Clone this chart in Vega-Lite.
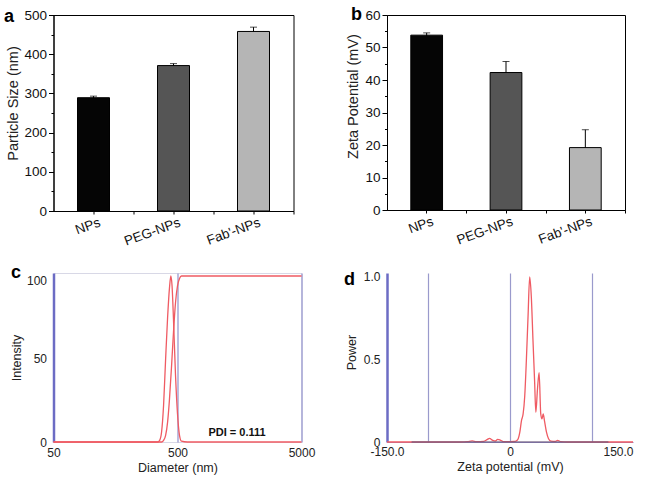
{
  "$schema": "https://vega.github.io/schema/vega-lite/v6.json",
  "background": "white",
  "padding": {"left": 3.5, "top": 5, "right": 5, "bottom": 5},
  "config": {
    "font": "Liberation Sans",
    "view": {"stroke": null},
    "axis": {"labelFont": "Liberation Sans", "titleFont": "Liberation Sans", "titleFontWeight": "normal", "labelOverlap": false},
    "title": {"font": "Liberation Sans"}
  },
  "columns": 2,
  "spacing": {"row": 62, "column": 85.5},
  "bounds": "flush",
  "concat": [
    {
      "width": 240,
      "height": 196,
      "title": {"text": "a", "anchor": "start", "frame": "group", "fontSize": 18, "fontWeight": "bold", "color": "black", "offset": -32, "baseline": "alphabetic", "dx": -49.5},
      "view": {"stroke": "black", "strokeWidth": 1},
      "data": {"values": [
        {"sample": "NPs", "size": 289, "sd": 4},
        {"sample": "PEG-NPs", "size": 371, "sd": 5},
        {"sample": "Fab'-NPs", "size": 458, "sd": 11}
      ]},
      "layer": [
        {
          "mark": {"type": "errorbar", "ticks": true, "size": 7, "thickness": 1, "color": "black"},
          "encoding": {
            "x": {"field": "sample", "type": "nominal", "sort": null, "scale": {"paddingInner": 0.6, "paddingOuter": 0.3},
              "axis": {"orient": "bottom", "title": null, "labels": false, "domain": false, "bandPosition": 1, "tickOffset": 24, "tickSize": 3, "tickColor": "black"}},
            "y": {"field": "size", "type": "quantitative", "scale": {"domain": [0, 500], "nice": false}, "title": "Particle Size (nm)"},
            "yError": {"field": "sd"}
          }
        },
        {
          "mark": {"type": "bar", "stroke": "black", "strokeWidth": 1},
          "encoding": {
            "x": {"field": "sample", "type": "nominal", "sort": null, "scale": {"paddingInner": 0.6, "paddingOuter": 0.3},
              "axis": {"orient": "bottom", "title": null, "labelAngle": -20, "labelFontSize": 13.5, "labelColor": "#111", "tickSize": 3, "tickColor": "black", "domainColor": "black", "labelPadding": 1, "labelOffset": 4}},
            "y": {"field": "size", "type": "quantitative", "scale": {"domain": [0, 500], "nice": false}, "title": "Particle Size (nm)",
              "axis": {"values": [0, 50, 100, 150, 200, 250, 300, 350, 400, 450, 500], "tickCount": 40, "labelExpr": "datum.value % 100 === 0 ? datum.label : ''",
                "labelOverlap": false,
                "tickSize": {"condition": {"test": "datum.value % 100 === 0", "value": 5}, "value": 2.5},
                "tickColor": "black", "domainColor": "black", "grid": false, "labelFontSize": 13.5, "labelColor": "#111", "labelPadding": 2,
                "titleFontSize": 14.5, "titleColor": "#222", "titlePadding": 3, "titleY": 88}},
            "color": {"field": "sample", "type": "nominal", "sort": null, "scale": {"domain": ["NPs", "PEG-NPs", "Fab'-NPs"], "range": ["#050505", "#555555", "#b5b5b5"]}, "legend": null}
          }
        }
      ],
      "resolve": {"axis": {"x": "independent"}}
    },
    {
      "width": 238,
      "height": 195,
      "title": {"text": "b", "anchor": "start", "frame": "group", "fontSize": 18, "fontWeight": "bold", "color": "black", "offset": -30, "baseline": "alphabetic", "dx": -36},
      "view": {"stroke": "black", "strokeWidth": 1},
      "data": {"values": [
        {"sample": "NPs", "zeta": 53.8, "sd": 0.7},
        {"sample": "PEG-NPs", "zeta": 42.3, "sd": 3.4},
        {"sample": "Fab'-NPs", "zeta": 19.2, "sd": 5.5}
      ]},
      "layer": [
        {
          "mark": {"type": "errorbar", "ticks": true, "size": 7, "thickness": 1, "color": "black"},
          "encoding": {
            "x": {"field": "sample", "type": "nominal", "sort": null, "scale": {"paddingInner": 0.6, "paddingOuter": 0.3},
              "axis": {"orient": "bottom", "title": null, "labels": false, "domain": false, "bandPosition": 1, "tickOffset": 23.8, "tickSize": 3, "tickColor": "black"}},
            "y": {"field": "zeta", "type": "quantitative", "scale": {"domain": [0, 60], "nice": false}, "title": "Zeta Potential (mV)"},
            "yError": {"field": "sd"}
          }
        },
        {
          "mark": {"type": "bar", "stroke": "black", "strokeWidth": 1},
          "encoding": {
            "x": {"field": "sample", "type": "nominal", "sort": null, "scale": {"paddingInner": 0.6, "paddingOuter": 0.3},
              "axis": {"orient": "bottom", "title": null, "labelAngle": -20, "labelFontSize": 13.5, "labelColor": "#111", "tickSize": 3, "tickColor": "black", "domainColor": "black", "labelPadding": 1, "labelOffset": 4}},
            "y": {"field": "zeta", "type": "quantitative", "scale": {"domain": [0, 60], "nice": false}, "title": "Zeta Potential (mV)",
              "axis": {"values": [0, 5, 10, 15, 20, 25, 30, 35, 40, 45, 50, 55, 60], "tickCount": 40, "labelExpr": "datum.value % 10 === 0 ? datum.label : ''",
                "labelOverlap": false,
                "tickSize": {"condition": {"test": "datum.value % 10 === 0", "value": 5}, "value": 2.5},
                "tickColor": "black", "domainColor": "black", "grid": false, "labelFontSize": 13.5, "labelColor": "#111", "labelPadding": 2,
                "titleFontSize": 14.5, "titleColor": "#222", "titlePadding": 4, "titleY": 81}},
            "color": {"field": "sample", "type": "nominal", "sort": null, "scale": {"domain": ["NPs", "PEG-NPs", "Fab'-NPs"], "range": ["#050505", "#555555", "#b5b5b5"]}, "legend": null}
          }
        }
      ],
      "resolve": {"axis": {"x": "independent"}}
    },
    {
      "width": 248,
      "height": 169,
      "title": {"text": "c", "anchor": "start", "frame": "group", "fontSize": 18, "fontWeight": "bold", "color": "black", "offset": -23, "baseline": "alphabetic", "dx": -42.5},
      "view": {"stroke": "#d8d8e6", "strokeWidth": 1},
      "layer": [
        {
          "data": {"values": [
            {"series": "distribution", "d": 50, "v": 0},
            {"series": "distribution", "d": 300, "v": 0},
            {"series": "distribution", "d": 346, "v": 0},
            {"series": "distribution", "d": 359, "v": 1},
            {"series": "distribution", "d": 372, "v": 6},
            {"series": "distribution", "d": 386, "v": 22},
            {"series": "distribution", "d": 401, "v": 50},
            {"series": "distribution", "d": 416, "v": 75},
            {"series": "distribution", "d": 431, "v": 93},
            {"series": "distribution", "d": 442, "v": 100},
            {"series": "distribution", "d": 452, "v": 94},
            {"series": "distribution", "d": 464, "v": 74},
            {"series": "distribution", "d": 482, "v": 40},
            {"series": "distribution", "d": 500, "v": 17},
            {"series": "distribution", "d": 519, "v": 4},
            {"series": "distribution", "d": 538, "v": 0.5},
            {"series": "distribution", "d": 600, "v": 0},
            {"series": "distribution", "d": 5000, "v": 0},
            {"series": "cumulative", "d": 50, "v": 0},
            {"series": "cumulative", "d": 372, "v": 0},
            {"series": "cumulative", "d": 386, "v": 1},
            {"series": "cumulative", "d": 401, "v": 4},
            {"series": "cumulative", "d": 416, "v": 12},
            {"series": "cumulative", "d": 431, "v": 26},
            {"series": "cumulative", "d": 448, "v": 46},
            {"series": "cumulative", "d": 464, "v": 66},
            {"series": "cumulative", "d": 482, "v": 84},
            {"series": "cumulative", "d": 500, "v": 94},
            {"series": "cumulative", "d": 519, "v": 98.5},
            {"series": "cumulative", "d": 538, "v": 100},
            {"series": "cumulative", "d": 5000, "v": 100}
          ]},
          "mark": {"type": "line", "interpolate": "monotone", "color": "#ef5b63", "strokeWidth": 1.3},
          "encoding": {
            "x": {"field": "d", "type": "quantitative", "scale": {"type": "log", "domain": [50, 5000], "nice": false},
              "axis": {"values": [50, 500, 5000], "format": "d", "title": "Diameter (nm)", "grid": true, "labelOverlap": false, "labelFlush": false,
                "gridColor": {"condition": {"test": "datum.value === 50", "value": "#6c6cc4"}, "value": "#9292cc"},
                "gridWidth": {"condition": {"test": "datum.value === 50", "value": 2.5}, "value": 1.2},
                "ticks": false, "tickSize": 0, "domain": false, "labelFontSize": 12, "labelColor": "#222", "labelPadding": 5,
                "titleFontSize": 12.5, "titleColor": "#222", "titlePadding": 3}},
            "y": {"field": "v", "type": "quantitative", "scale": {"domain": [0, 101.8], "nice": false},
              "axis": {"values": [0, 50, 100], "title": "Intensity", "grid": false, "ticks": false, "tickSize": 0, "domain": false, "labelOverlap": false,
                "labelBaseline": {"condition": {"test": "datum.value === 100", "value": "top"}, "value": "middle"},
                "labelFontSize": 12, "labelColor": "#222", "labelPadding": 7, "titleFontSize": 12.5, "titleColor": "#222", "titlePadding": 3}},
            "detail": {"field": "series", "type": "nominal"}
          }
        },
        {
          "data": {"values": [{"note": "PDI = 0.111"}]},
          "mark": {"type": "text", "fontWeight": "bold", "fontSize": 11, "color": "#111", "baseline": "middle", "align": "center"},
          "encoding": {
            "x": {"datum": 1510, "type": "quantitative"},
            "y": {"datum": 5.6, "type": "quantitative"},
            "text": {"field": "note", "type": "nominal"}
          }
        }
      ]
    },
    {
      "width": 246,
      "height": 169,
      "title": {"text": "d", "anchor": "start", "frame": "group", "fontSize": 18, "fontWeight": "bold", "color": "black", "offset": -31.6, "baseline": "alphabetic", "dx": -43},
      "view": {"stroke": null},
      "layer": [
        {
          "data": {"values": [
            {"mv": -150, "power": 0}, {"mv": -120, "power": 0}, {"mv": -60, "power": 0},
            {"mv": -52, "power": 0.002}, {"mv": -46, "power": 0.007}, {"mv": -41, "power": 0.002},
            {"mv": -32, "power": 0.004}, {"mv": -28, "power": 0.014}, {"mv": -25, "power": 0.022},
            {"mv": -21, "power": 0.01}, {"mv": -18, "power": 0.006}, {"mv": -15, "power": 0.016},
            {"mv": -12, "power": 0.012}, {"mv": -8, "power": 0.002}, {"mv": 0, "power": 0.002},
            {"mv": 5, "power": 0.003}, {"mv": 8, "power": 0.008}, {"mv": 10, "power": 0.02},
            {"mv": 12, "power": 0.06}, {"mv": 14, "power": 0.13}, {"mv": 16, "power": 0.17},
            {"mv": 18, "power": 0.28}, {"mv": 20, "power": 0.5}, {"mv": 22, "power": 0.76},
            {"mv": 24, "power": 1.0}, {"mv": 26, "power": 0.88}, {"mv": 28, "power": 0.62},
            {"mv": 30, "power": 0.37}, {"mv": 31.5, "power": 0.18}, {"mv": 33.5, "power": 0.32},
            {"mv": 35.5, "power": 0.42}, {"mv": 37.5, "power": 0.17}, {"mv": 39, "power": 0.14},
            {"mv": 40.5, "power": 0.17}, {"mv": 42, "power": 0.13}, {"mv": 44.5, "power": 0.06},
            {"mv": 47, "power": 0.02}, {"mv": 50, "power": 0.005}, {"mv": 55, "power": 0.003},
            {"mv": 58, "power": 0.01}, {"mv": 62, "power": 0.002}, {"mv": 70, "power": 0},
            {"mv": 150, "power": 0}
          ]},
          "mark": {"type": "line", "interpolate": "monotone", "color": "#ef5b63", "strokeWidth": 1.3},
          "encoding": {
            "x": {"field": "mv", "type": "quantitative", "scale": {"domain": [-150, 150], "nice": false},
              "axis": {"values": [-150, -100, 0, 100, 150], "title": "Zeta potential (mV)", "labelOverlap": false, "labelFlush": false,
                "labelExpr": "datum.value === -150 ? '-150.0' : (datum.value === 150 ? '150.0' : (datum.value === 0 ? '0' : ''))",
                "labelAlign": {"condition": {"test": "datum.value === 150", "value": "right"}, "value": "center"},
                "grid": true,
                "gridColor": {"condition": {"test": "datum.value === -150", "value": "#6c6cc4"}, "value": "#9a9acc"},
                "gridWidth": {"condition": {"test": "datum.value === -150", "value": 2.5}, "value": 1.2},
                "gridOpacity": {"condition": {"test": "datum.value === 150", "value": 0}, "value": 1},
                "ticks": false, "tickSize": 0, "domain": true, "domainColor": "#8c8cd0", "domainWidth": 1.2,
                "labelFontSize": 12, "labelColor": "#222", "labelPadding": 4,
                "titleFontSize": 12.5, "titleColor": "#222", "titlePadding": 3}},
            "y": {"field": "power", "type": "quantitative", "scale": {"domain": [0, 1.024], "nice": false},
              "axis": {"values": [0, 0.5, 1], "title": "Power", "labelExpr": "datum.value === 0 ? '0' : format(datum.value, '.1f')", "labelOverlap": false,
                "grid": false, "ticks": false, "tickSize": 0, "domain": false,
                "labelFontSize": 12, "labelColor": "#222", "labelPadding": 7, "titleFontSize": 12.5, "titleColor": "#222", "titlePadding": 5, "titleY": 79}}
          }
        },
        {
          "data": {"values": [{}]},
          "mark": {"type": "rule", "color": "#6e5a7e", "strokeWidth": 1.3, "opacity": 0.8},
          "encoding": {
            "x": {"datum": -120, "type": "quantitative"},
            "x2": {"datum": 120},
            "y": {"datum": 0, "type": "quantitative"}
          }
        }
      ]
    }
  ]
}
